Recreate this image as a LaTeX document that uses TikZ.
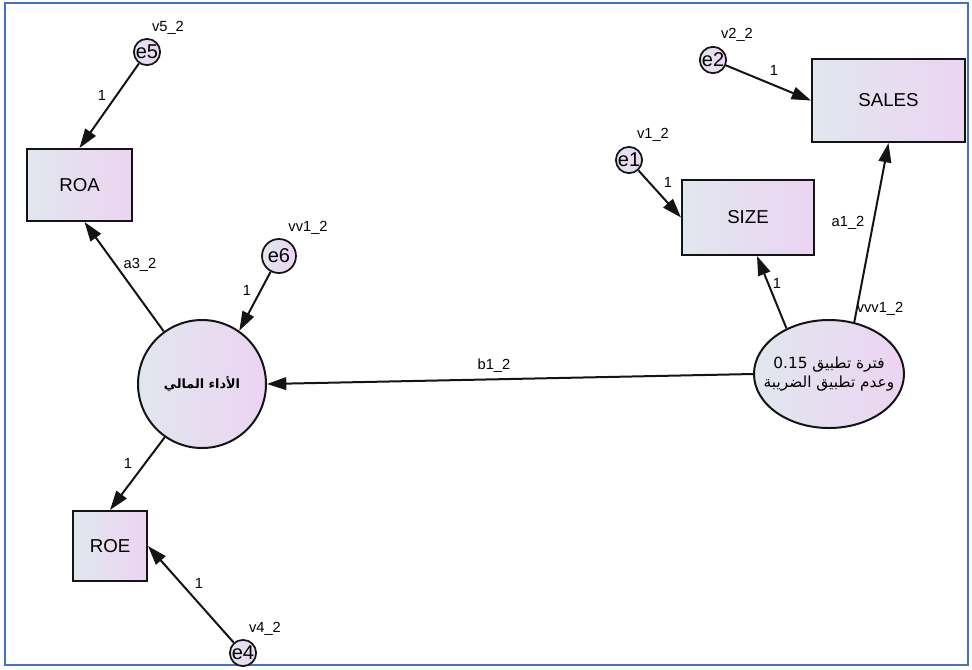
\documentclass[tikz,border=0pt]{standalone}
\usepackage{fontspec}
\setmainfont{Liberation Sans}
\newfontfamily\arabicfont[Script=Arabic]{DejaVu Sans}
\TeXXeTstate=1
\usetikzlibrary{arrows.meta,shapes.geometric,calc}
\definecolor{gL}{RGB}{225,231,238}
\definecolor{gR}{RGB}{236,212,242}
\definecolor{frameblue}{RGB}{68,114,196}
\definecolor{ink}{RGB}{20,20,20}
\begin{document}
\begin{tikzpicture}[x=0.75pt,y=-0.75pt,
  shade/.style={left color=gL, right color=gR},
  obs/.style n args={2}{rectangle, draw=ink, line width=1.5pt, shade, inner sep=0pt,
     minimum width=#1*0.75pt, minimum height=#2*0.75pt, font=\fontsize{14}{16}\selectfont},
  err/.style={circle, draw=ink, line width=1.3pt, shade, inner sep=0pt,
     minimum size=#1*0.75pt, font=\fontsize{15}{15}\selectfont},
  lbl/.style={inner sep=0pt, font=\fontsize{11}{13}\selectfont},
  arr/.style={draw=ink, line width=1.5pt, -{Triangle[length=14.5pt,width=9.5pt]}}]
\useasboundingbox (0,0) rectangle (972,669);
\node[draw=frameblue, line width=1.5pt, minimum width=963*0.75pt, minimum height=662*0.75pt, inner sep=0pt] (frame) at (486.5,334) {};
% observed
\node[obs={105}{72}] (ROA) at (79.5,185) {ROA};
\node[obs={132}{75}] (SIZE) at (748,217.5) {SIZE};
\node[obs={153}{83}] (SALES) at (888.5,100.5) {SALES};
\node[obs={74}{70}] (ROE) at (110,546) {ROE};
% latent
\node[circle, draw=ink, line width=1.5pt, shade, minimum size=128*0.75pt, inner sep=0pt,
  font=\arabicfont\bfseries\fontsize{9.6}{12}\selectfont] (F) at (202,384) {\beginR الأداء المالي\endR};
\node[ellipse, draw=ink, line width=1.5pt, shade, minimum width=150*0.75pt, minimum height=108*0.75pt,
  inner sep=0pt] (T) at (829,374) {};
\node[inner sep=0pt, align=center, font=\arabicfont\fontsize{11.5}{14}\selectfont] (Ttext) at (T.center)
  {\beginR فترة تطبيق \beginL 0.15\endL\endR\\\beginR وعدم تطبيق الضريبة\endR};
% errors
\node[err=24] (e5) at (147,52) {e5};
\node[err=24] (e2) at (713,60) {e2};
\node[err=24] (e1) at (629,160) {e1};
\node[err=34] (e6) at (279,256) {e6};
\node[err=24] (e4) at (243,653) {e4};
% connectors
\draw[arr] (e5) -- (ROA.north);
\draw[arr] (e2) -- (SALES.west);
\draw[arr] (e1) -- (SIZE.west);
\draw[arr] (T.133) -- ($(SIZE.south)+(9,0)$);
\draw[arr] (T.64) -- (SALES.south);
\draw[arr] (T.west) -- (F.east);
\draw[arr] (F.126) -- ($(ROA.south)+(5,0)$);
\draw[arr] (e6) -- (F.55);
\draw[arr] (F.235) -- (ROE.north);
\draw[arr] (e4) -- (ROE.east);
% labels
\node[lbl] (l5) at (168,28) {v5\_2};
\node[lbl] (l2) at (737,35) {v2\_2};
\node[lbl] (l1) at (653,135) {v1\_2};
\node[lbl] (l6) at (308,228) {vv1\_2};
\node[lbl] (l4) at (265,629) {v4\_2};
\node[lbl] (lT) at (880,309) {vvv1\_2};
\node[lbl] (la1) at (848,223) {a1\_2};
\node[lbl] (la3) at (140,265) {a3\_2};
\node[lbl] (lb1) at (494,366) {b1\_2};
\node[lbl] (o1) at (102,95) {1};
\node[lbl] (o2) at (774,70) {1};
\node[lbl] (o3) at (668,182) {1};
\node[lbl] (o4) at (777,283) {1};
\node[lbl] (o5) at (247,290) {1};
\node[lbl] (o6) at (128,463) {1};
\node[lbl] (o7) at (199,583) {1};
\end{tikzpicture}
\end{document}
